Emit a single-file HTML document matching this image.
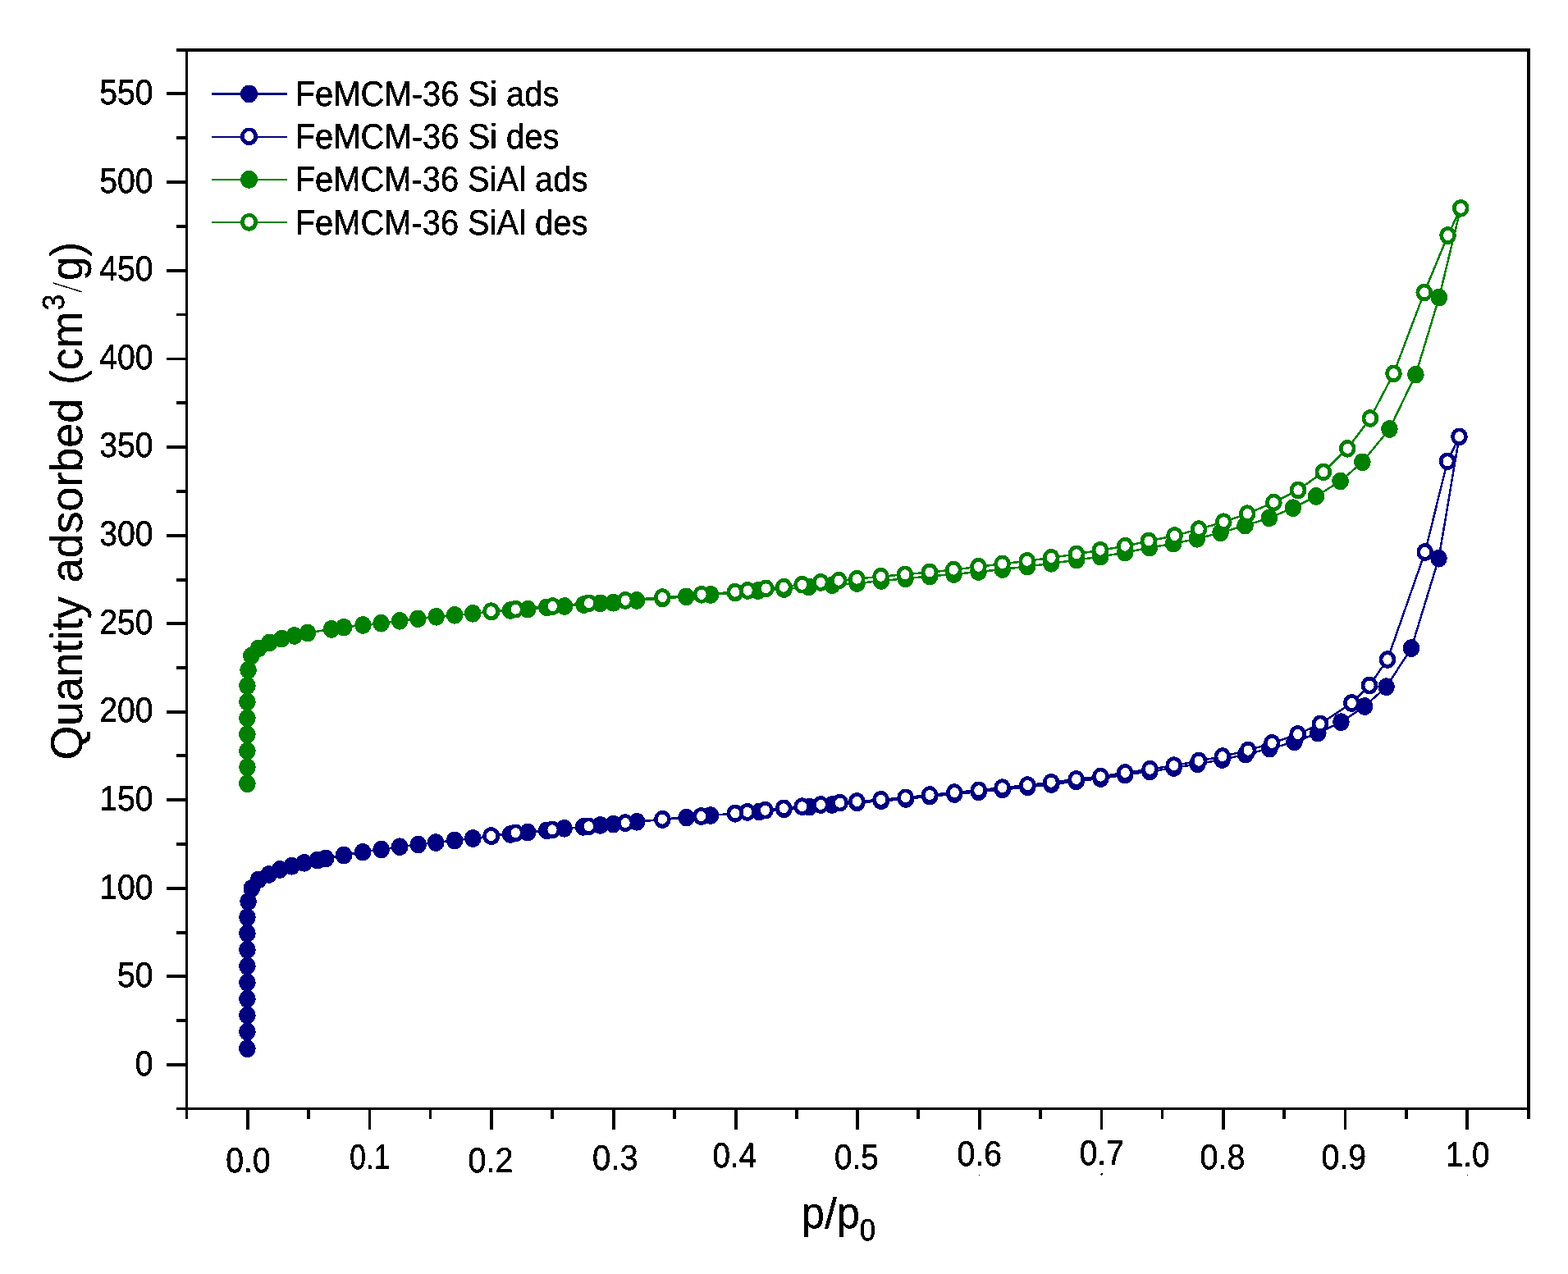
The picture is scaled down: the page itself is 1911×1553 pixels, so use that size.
<!DOCTYPE html>
<html lang="en"><head><meta charset="utf-8"><title>Quantity adsorbed vs p/p0</title>
<style>html,body{margin:0;padding:0;background:#fff;overflow:hidden}svg{display:block}text{font-family:"Liberation Sans",Arial,Helvetica,sans-serif;font-size:100px;text-rendering:geometricPrecision}</style></head><body>
<svg width="1911" height="1553" viewBox="0 0 1911 1553">
<rect width="1911" height="1553" fill="#fff"/>
<defs><filter id="hard" x="0" y="0" width="1911" height="1553" filterUnits="userSpaceOnUse" color-interpolation-filters="sRGB"><feComponentTransfer><feFuncA type="discrete" tableValues="0 1"/></feComponentTransfer></filter></defs>
<g shape-rendering="crispEdges">
<g fill="#000">
<rect x="215" y="59" width="1650" height="4"/>
<rect x="215" y="1350" width="1650" height="3"/>
<rect x="226" y="59" width="3" height="1305"/>
<rect x="1861" y="59" width="4" height="1305"/>
<rect x="203" y="112" width="23" height="4"/>
<rect x="215" y="166" width="11" height="4"/>
<rect x="203" y="220" width="23" height="4"/>
<rect x="215" y="274" width="11" height="4"/>
<rect x="203" y="328" width="23" height="4"/>
<rect x="215" y="382" width="11" height="3"/>
<rect x="203" y="436" width="23" height="3"/>
<rect x="215" y="489" width="11" height="4"/>
<rect x="203" y="543" width="23" height="4"/>
<rect x="215" y="597" width="11" height="4"/>
<rect x="203" y="651" width="23" height="4"/>
<rect x="215" y="705" width="11" height="4"/>
<rect x="203" y="758" width="23" height="4"/>
<rect x="215" y="812" width="11" height="4"/>
<rect x="203" y="866" width="23" height="4"/>
<rect x="215" y="919" width="11" height="4"/>
<rect x="203" y="973" width="23" height="4"/>
<rect x="215" y="1027" width="11" height="4"/>
<rect x="203" y="1081" width="23" height="4"/>
<rect x="215" y="1135" width="11" height="4"/>
<rect x="203" y="1188" width="23" height="4"/>
<rect x="215" y="1242" width="11" height="4"/>
<rect x="203" y="1296" width="23" height="4"/>
<rect x="300" y="1353" width="4" height="24"/>
<rect x="374" y="1353" width="4" height="11"/>
<rect x="449" y="1353" width="3" height="24"/>
<rect x="523" y="1353" width="3" height="11"/>
<rect x="597" y="1353" width="4" height="24"/>
<rect x="671" y="1353" width="4" height="11"/>
<rect x="746" y="1353" width="4" height="24"/>
<rect x="820" y="1353" width="4" height="11"/>
<rect x="895" y="1353" width="4" height="24"/>
<rect x="969" y="1353" width="4" height="11"/>
<rect x="1043" y="1353" width="4" height="24"/>
<rect x="1117" y="1353" width="4" height="11"/>
<rect x="1192" y="1353" width="4" height="24"/>
<rect x="1266" y="1353" width="4" height="11"/>
<rect x="1341" y="1353" width="3" height="24"/>
<rect x="1415" y="1353" width="3" height="11"/>
<rect x="1489" y="1353" width="4" height="24"/>
<rect x="1563" y="1353" width="4" height="11"/>
<rect x="1638" y="1353" width="3" height="24"/>
<rect x="1712" y="1353" width="4" height="11"/>
<rect x="1786" y="1353" width="4" height="24"/>
</g>
<path d="M301.4 1278.3 L301.4 1257.6 L301.4 1237.6 L301.4 1217.7 L301.4 1197.7 L301.4 1177.7 L301.4 1157.8 L301.4 1137.8 L301.4 1118.2 L302.6 1099.0 L306.8 1083.0 L315.2 1072.3 L327.7 1065.9 L341.1 1059.9 L355.5 1055.8 L370.8 1051.8 L387.0 1048.5 L397.0 1046.5 L419.0 1042.4 L442.1 1038.7 L464.7 1035.5 L487.1 1032.2 L509.7 1029.5 L531.2 1027.0 L554.1 1024.5 L576.3 1022.0 L599.0 1019.3 L622.1 1017.0 L643.2 1014.6 L666.3 1012.3 L687.6 1009.8 L710.9 1008.0 L731.6 1005.9 L747.5 1004.6 L776.3 1001.8 L807.3 999.0 L836.6 996.6 L866.0 994.0 L896.0 991.8 L925.4 989.5 L955.5 986.5 L986.5 983.6 L1014.1 981.0 L1044.5 978.5 L1074.0 976.3 L1104.0 974.0 L1133.2 970.6 L1163.2 968.0 L1192.8 965.3 L1221.8 962.4 L1252.3 959.4 L1281.3 956.1 L1311.7 952.4 L1341.4 949.0 L1371.2 944.5 L1401.3 940.5 L1430.6 936.0 L1459.4 931.3 L1489.6 926.0 L1518.1 919.6 L1547.4 912.6 L1577.5 904.5 L1606.3 893.6 L1634.4 880.2 L1663.2 861.0 L1689.6 837.2 L1720.1 790.1 L1753.5 680.7 L1778.5 532.3" fill="none" stroke="#000080" stroke-width="2.5" stroke-linejoin="round"/>
<g fill="#000080">
<ellipse cx="301.4" cy="1278.3" rx="10.3" ry="10.8"/>
<ellipse cx="301.4" cy="1257.6" rx="10.3" ry="10.8"/>
<ellipse cx="301.4" cy="1237.6" rx="10.3" ry="10.8"/>
<ellipse cx="301.4" cy="1217.7" rx="10.3" ry="10.8"/>
<ellipse cx="301.4" cy="1197.7" rx="10.3" ry="10.8"/>
<ellipse cx="301.4" cy="1177.7" rx="10.3" ry="10.8"/>
<ellipse cx="301.4" cy="1157.8" rx="10.3" ry="10.8"/>
<ellipse cx="301.4" cy="1137.8" rx="10.3" ry="10.8"/>
<ellipse cx="301.4" cy="1118.2" rx="10.3" ry="10.8"/>
<ellipse cx="302.6" cy="1099.0" rx="10.3" ry="10.8"/>
<ellipse cx="306.8" cy="1083.0" rx="10.3" ry="10.8"/>
<ellipse cx="315.2" cy="1072.3" rx="10.3" ry="10.8"/>
<ellipse cx="327.7" cy="1065.9" rx="10.3" ry="10.8"/>
<ellipse cx="341.1" cy="1059.9" rx="10.3" ry="10.8"/>
<ellipse cx="355.5" cy="1055.8" rx="10.3" ry="10.8"/>
<ellipse cx="370.8" cy="1051.8" rx="10.3" ry="10.8"/>
<ellipse cx="387.0" cy="1048.5" rx="10.3" ry="10.8"/>
<ellipse cx="397.0" cy="1046.5" rx="10.3" ry="10.8"/>
<ellipse cx="419.0" cy="1042.4" rx="10.3" ry="10.8"/>
<ellipse cx="442.1" cy="1038.7" rx="10.3" ry="10.8"/>
<ellipse cx="464.7" cy="1035.5" rx="10.3" ry="10.8"/>
<ellipse cx="487.1" cy="1032.2" rx="10.3" ry="10.8"/>
<ellipse cx="509.7" cy="1029.5" rx="10.3" ry="10.8"/>
<ellipse cx="531.2" cy="1027.0" rx="10.3" ry="10.8"/>
<ellipse cx="554.1" cy="1024.5" rx="10.3" ry="10.8"/>
<ellipse cx="576.3" cy="1022.0" rx="10.3" ry="10.8"/>
<ellipse cx="599.0" cy="1019.3" rx="10.3" ry="10.8"/>
<ellipse cx="622.1" cy="1017.0" rx="10.3" ry="10.8"/>
<ellipse cx="643.2" cy="1014.6" rx="10.3" ry="10.8"/>
<ellipse cx="666.3" cy="1012.3" rx="10.3" ry="10.8"/>
<ellipse cx="687.6" cy="1009.8" rx="10.3" ry="10.8"/>
<ellipse cx="710.9" cy="1008.0" rx="10.3" ry="10.8"/>
<ellipse cx="731.6" cy="1005.9" rx="10.3" ry="10.8"/>
<ellipse cx="747.5" cy="1004.6" rx="10.3" ry="10.8"/>
<ellipse cx="776.3" cy="1001.8" rx="10.3" ry="10.8"/>
<ellipse cx="807.3" cy="999.0" rx="10.3" ry="10.8"/>
<ellipse cx="836.6" cy="996.6" rx="10.3" ry="10.8"/>
<ellipse cx="866.0" cy="994.0" rx="10.3" ry="10.8"/>
<ellipse cx="896.0" cy="991.8" rx="10.3" ry="10.8"/>
<ellipse cx="925.4" cy="989.5" rx="10.3" ry="10.8"/>
<ellipse cx="955.5" cy="986.5" rx="10.3" ry="10.8"/>
<ellipse cx="986.5" cy="983.6" rx="10.3" ry="10.8"/>
<ellipse cx="1014.1" cy="981.0" rx="10.3" ry="10.8"/>
<ellipse cx="1044.5" cy="978.5" rx="10.3" ry="10.8"/>
<ellipse cx="1074.0" cy="976.3" rx="10.3" ry="10.8"/>
<ellipse cx="1104.0" cy="974.0" rx="10.3" ry="10.8"/>
<ellipse cx="1133.2" cy="970.6" rx="10.3" ry="10.8"/>
<ellipse cx="1163.2" cy="968.0" rx="10.3" ry="10.8"/>
<ellipse cx="1192.8" cy="965.3" rx="10.3" ry="10.8"/>
<ellipse cx="1221.8" cy="962.4" rx="10.3" ry="10.8"/>
<ellipse cx="1252.3" cy="959.4" rx="10.3" ry="10.8"/>
<ellipse cx="1281.3" cy="956.1" rx="10.3" ry="10.8"/>
<ellipse cx="1311.7" cy="952.4" rx="10.3" ry="10.8"/>
<ellipse cx="1341.4" cy="949.0" rx="10.3" ry="10.8"/>
<ellipse cx="1371.2" cy="944.5" rx="10.3" ry="10.8"/>
<ellipse cx="1401.3" cy="940.5" rx="10.3" ry="10.8"/>
<ellipse cx="1430.6" cy="936.0" rx="10.3" ry="10.8"/>
<ellipse cx="1459.4" cy="931.3" rx="10.3" ry="10.8"/>
<ellipse cx="1489.6" cy="926.0" rx="10.3" ry="10.8"/>
<ellipse cx="1518.1" cy="919.6" rx="10.3" ry="10.8"/>
<ellipse cx="1547.4" cy="912.6" rx="10.3" ry="10.8"/>
<ellipse cx="1577.5" cy="904.5" rx="10.3" ry="10.8"/>
<ellipse cx="1606.3" cy="893.6" rx="10.3" ry="10.8"/>
<ellipse cx="1634.4" cy="880.2" rx="10.3" ry="10.8"/>
<ellipse cx="1663.2" cy="861.0" rx="10.3" ry="10.8"/>
<ellipse cx="1689.6" cy="837.2" rx="10.3" ry="10.8"/>
<ellipse cx="1720.1" cy="790.1" rx="10.3" ry="10.8"/>
<ellipse cx="1753.5" cy="680.7" rx="10.3" ry="10.8"/>
<ellipse cx="1778.5" cy="532.3" rx="10.3" ry="10.8"/>
</g>
<path d="M1778.5 532.3 L1764.1 562.3 L1736.8 673.0 L1691.0 804.0 L1669.0 835.6 L1647.3 857.0 L1609.0 882.4 L1581.7 895.0 L1550.2 905.9 L1521.1 914.6 L1489.9 922.1 L1461.1 927.6 L1430.7 933.2 L1401.5 937.7 L1371.2 942.0 L1341.4 946.5 L1311.7 949.9 L1281.1 953.7 L1252.3 957.1 L1221.6 960.2 L1192.8 963.3 L1163.2 966.1 L1133.1 969.0 L1103.7 972.3 L1073.6 974.8 L1044.3 977.0 L1023.7 978.6 L1000.2 981.0 L977.6 983.2 L955.2 985.3 L932.6 987.7 L910.8 989.9 L895.8 991.5 L854.7 995.0 L807.3 998.6 L762.1 1003.1 L717.4 1007.3 L673.0 1011.4 L628.3 1015.3 L598.5 1019.0" fill="none" stroke="#000080" stroke-width="2.5" stroke-linejoin="round"/>
<g fill="#000080">
<ellipse cx="1778.5" cy="532.3" rx="10.3" ry="10.8"/><ellipse cx="1778.5" cy="532.3" rx="5.6" ry="6.05" fill="#fff"/>
<ellipse cx="1764.1" cy="562.3" rx="10.3" ry="10.8"/><ellipse cx="1764.1" cy="562.3" rx="5.6" ry="6.05" fill="#fff"/>
<ellipse cx="1736.8" cy="673.0" rx="10.3" ry="10.8"/><ellipse cx="1736.8" cy="673.0" rx="5.6" ry="6.05" fill="#fff"/>
<ellipse cx="1691.0" cy="804.0" rx="10.3" ry="10.8"/><ellipse cx="1691.0" cy="804.0" rx="5.6" ry="6.05" fill="#fff"/>
<ellipse cx="1669.0" cy="835.6" rx="10.3" ry="10.8"/><ellipse cx="1669.0" cy="835.6" rx="5.6" ry="6.05" fill="#fff"/>
<ellipse cx="1647.3" cy="857.0" rx="10.3" ry="10.8"/><ellipse cx="1647.3" cy="857.0" rx="5.6" ry="6.05" fill="#fff"/>
<ellipse cx="1609.0" cy="882.4" rx="10.3" ry="10.8"/><ellipse cx="1609.0" cy="882.4" rx="5.6" ry="6.05" fill="#fff"/>
<ellipse cx="1581.7" cy="895.0" rx="10.3" ry="10.8"/><ellipse cx="1581.7" cy="895.0" rx="5.6" ry="6.05" fill="#fff"/>
<ellipse cx="1550.2" cy="905.9" rx="10.3" ry="10.8"/><ellipse cx="1550.2" cy="905.9" rx="5.6" ry="6.05" fill="#fff"/>
<ellipse cx="1521.1" cy="914.6" rx="10.3" ry="10.8"/><ellipse cx="1521.1" cy="914.6" rx="5.6" ry="6.05" fill="#fff"/>
<ellipse cx="1489.9" cy="922.1" rx="10.3" ry="10.8"/><ellipse cx="1489.9" cy="922.1" rx="5.6" ry="6.05" fill="#fff"/>
<ellipse cx="1461.1" cy="927.6" rx="10.3" ry="10.8"/><ellipse cx="1461.1" cy="927.6" rx="5.6" ry="6.05" fill="#fff"/>
<ellipse cx="1430.7" cy="933.2" rx="10.3" ry="10.8"/><ellipse cx="1430.7" cy="933.2" rx="5.6" ry="6.05" fill="#fff"/>
<ellipse cx="1401.5" cy="937.7" rx="10.3" ry="10.8"/><ellipse cx="1401.5" cy="937.7" rx="5.6" ry="6.05" fill="#fff"/>
<ellipse cx="1371.2" cy="942.0" rx="10.3" ry="10.8"/><ellipse cx="1371.2" cy="942.0" rx="5.6" ry="6.05" fill="#fff"/>
<ellipse cx="1341.4" cy="946.5" rx="10.3" ry="10.8"/><ellipse cx="1341.4" cy="946.5" rx="5.6" ry="6.05" fill="#fff"/>
<ellipse cx="1311.7" cy="949.9" rx="10.3" ry="10.8"/><ellipse cx="1311.7" cy="949.9" rx="5.6" ry="6.05" fill="#fff"/>
<ellipse cx="1281.1" cy="953.7" rx="10.3" ry="10.8"/><ellipse cx="1281.1" cy="953.7" rx="5.6" ry="6.05" fill="#fff"/>
<ellipse cx="1252.3" cy="957.1" rx="10.3" ry="10.8"/><ellipse cx="1252.3" cy="957.1" rx="5.6" ry="6.05" fill="#fff"/>
<ellipse cx="1221.6" cy="960.2" rx="10.3" ry="10.8"/><ellipse cx="1221.6" cy="960.2" rx="5.6" ry="6.05" fill="#fff"/>
<ellipse cx="1192.8" cy="963.3" rx="10.3" ry="10.8"/><ellipse cx="1192.8" cy="963.3" rx="5.6" ry="6.05" fill="#fff"/>
<ellipse cx="1163.2" cy="966.1" rx="10.3" ry="10.8"/><ellipse cx="1163.2" cy="966.1" rx="5.6" ry="6.05" fill="#fff"/>
<ellipse cx="1133.1" cy="969.0" rx="10.3" ry="10.8"/><ellipse cx="1133.1" cy="969.0" rx="5.6" ry="6.05" fill="#fff"/>
<ellipse cx="1103.7" cy="972.3" rx="10.3" ry="10.8"/><ellipse cx="1103.7" cy="972.3" rx="5.6" ry="6.05" fill="#fff"/>
<ellipse cx="1073.6" cy="974.8" rx="10.3" ry="10.8"/><ellipse cx="1073.6" cy="974.8" rx="5.6" ry="6.05" fill="#fff"/>
<ellipse cx="1044.3" cy="977.0" rx="10.3" ry="10.8"/><ellipse cx="1044.3" cy="977.0" rx="5.6" ry="6.05" fill="#fff"/>
<ellipse cx="1023.7" cy="978.6" rx="10.3" ry="10.8"/><ellipse cx="1023.7" cy="978.6" rx="5.6" ry="6.05" fill="#fff"/>
<ellipse cx="1000.2" cy="981.0" rx="10.3" ry="10.8"/><ellipse cx="1000.2" cy="981.0" rx="5.6" ry="6.05" fill="#fff"/>
<ellipse cx="977.6" cy="983.2" rx="10.3" ry="10.8"/><ellipse cx="977.6" cy="983.2" rx="5.6" ry="6.05" fill="#fff"/>
<ellipse cx="955.2" cy="985.3" rx="10.3" ry="10.8"/><ellipse cx="955.2" cy="985.3" rx="5.6" ry="6.05" fill="#fff"/>
<ellipse cx="932.6" cy="987.7" rx="10.3" ry="10.8"/><ellipse cx="932.6" cy="987.7" rx="5.6" ry="6.05" fill="#fff"/>
<ellipse cx="910.8" cy="989.9" rx="10.3" ry="10.8"/><ellipse cx="910.8" cy="989.9" rx="5.6" ry="6.05" fill="#fff"/>
<ellipse cx="895.8" cy="991.5" rx="10.3" ry="10.8"/><ellipse cx="895.8" cy="991.5" rx="5.6" ry="6.05" fill="#fff"/>
<ellipse cx="854.7" cy="995.0" rx="10.3" ry="10.8"/><ellipse cx="854.7" cy="995.0" rx="5.6" ry="6.05" fill="#fff"/>
<ellipse cx="807.3" cy="998.6" rx="10.3" ry="10.8"/><ellipse cx="807.3" cy="998.6" rx="5.6" ry="6.05" fill="#fff"/>
<ellipse cx="762.1" cy="1003.1" rx="10.3" ry="10.8"/><ellipse cx="762.1" cy="1003.1" rx="5.6" ry="6.05" fill="#fff"/>
<ellipse cx="717.4" cy="1007.3" rx="10.3" ry="10.8"/><ellipse cx="717.4" cy="1007.3" rx="5.6" ry="6.05" fill="#fff"/>
<ellipse cx="673.0" cy="1011.4" rx="10.3" ry="10.8"/><ellipse cx="673.0" cy="1011.4" rx="5.6" ry="6.05" fill="#fff"/>
<ellipse cx="628.3" cy="1015.3" rx="10.3" ry="10.8"/><ellipse cx="628.3" cy="1015.3" rx="5.6" ry="6.05" fill="#fff"/>
<ellipse cx="598.5" cy="1019.0" rx="10.3" ry="10.8"/><ellipse cx="598.5" cy="1019.0" rx="5.6" ry="6.05" fill="#fff"/>
</g>
<path d="M301.4 955.3 L301.4 935.2 L301.4 915.4 L301.4 895.3 L301.4 875.4 L301.4 855.6 L301.4 836.0 L302.6 816.8 L306.3 799.5 L315.2 790.3 L328.6 783.3 L343.3 778.6 L358.7 774.9 L374.9 771.6 L403.9 766.9 L419.0 764.7 L442.4 761.9 L464.5 759.7 L487.1 756.8 L509.4 754.3 L531.7 751.8 L554.1 749.8 L576.3 747.8 L599.0 745.5 L622.1 744.0 L643.2 742.7 L666.3 740.3 L688.1 739.0 L711.5 737.0 L731.6 735.3 L747.5 734.8 L776.0 731.9 L807.3 729.5 L836.3 727.3 L866.1 724.9 L896.0 722.5 L923.7 720.0 L955.5 718.0 L985.7 715.4 L1014.1 713.2 L1044.5 711.0 L1074.0 708.0 L1103.5 705.3 L1133.1 702.4 L1162.5 700.0 L1192.5 697.0 L1221.8 694.0 L1252.0 690.5 L1281.3 686.8 L1312.1 682.5 L1341.2 678.5 L1371.2 673.5 L1400.8 667.7 L1430.1 662.7 L1458.9 656.8 L1487.6 649.3 L1517.5 640.6 L1546.9 631.4 L1575.8 619.2 L1604.0 604.9 L1633.6 586.5 L1660.4 563.3 L1693.4 523.0 L1725.4 456.6 L1753.9 362.7 L1780.2 253.8" fill="none" stroke="#008000" stroke-width="2.5" stroke-linejoin="round"/>
<g fill="#008000">
<ellipse cx="301.4" cy="955.3" rx="10.3" ry="10.8"/>
<ellipse cx="301.4" cy="935.2" rx="10.3" ry="10.8"/>
<ellipse cx="301.4" cy="915.4" rx="10.3" ry="10.8"/>
<ellipse cx="301.4" cy="895.3" rx="10.3" ry="10.8"/>
<ellipse cx="301.4" cy="875.4" rx="10.3" ry="10.8"/>
<ellipse cx="301.4" cy="855.6" rx="10.3" ry="10.8"/>
<ellipse cx="301.4" cy="836.0" rx="10.3" ry="10.8"/>
<ellipse cx="302.6" cy="816.8" rx="10.3" ry="10.8"/>
<ellipse cx="306.3" cy="799.5" rx="10.3" ry="10.8"/>
<ellipse cx="315.2" cy="790.3" rx="10.3" ry="10.8"/>
<ellipse cx="328.6" cy="783.3" rx="10.3" ry="10.8"/>
<ellipse cx="343.3" cy="778.6" rx="10.3" ry="10.8"/>
<ellipse cx="358.7" cy="774.9" rx="10.3" ry="10.8"/>
<ellipse cx="374.9" cy="771.6" rx="10.3" ry="10.8"/>
<ellipse cx="403.9" cy="766.9" rx="10.3" ry="10.8"/>
<ellipse cx="419.0" cy="764.7" rx="10.3" ry="10.8"/>
<ellipse cx="442.4" cy="761.9" rx="10.3" ry="10.8"/>
<ellipse cx="464.5" cy="759.7" rx="10.3" ry="10.8"/>
<ellipse cx="487.1" cy="756.8" rx="10.3" ry="10.8"/>
<ellipse cx="509.4" cy="754.3" rx="10.3" ry="10.8"/>
<ellipse cx="531.7" cy="751.8" rx="10.3" ry="10.8"/>
<ellipse cx="554.1" cy="749.8" rx="10.3" ry="10.8"/>
<ellipse cx="576.3" cy="747.8" rx="10.3" ry="10.8"/>
<ellipse cx="599.0" cy="745.5" rx="10.3" ry="10.8"/>
<ellipse cx="622.1" cy="744.0" rx="10.3" ry="10.8"/>
<ellipse cx="643.2" cy="742.7" rx="10.3" ry="10.8"/>
<ellipse cx="666.3" cy="740.3" rx="10.3" ry="10.8"/>
<ellipse cx="688.1" cy="739.0" rx="10.3" ry="10.8"/>
<ellipse cx="711.5" cy="737.0" rx="10.3" ry="10.8"/>
<ellipse cx="731.6" cy="735.3" rx="10.3" ry="10.8"/>
<ellipse cx="747.5" cy="734.8" rx="10.3" ry="10.8"/>
<ellipse cx="776.0" cy="731.9" rx="10.3" ry="10.8"/>
<ellipse cx="807.3" cy="729.5" rx="10.3" ry="10.8"/>
<ellipse cx="836.3" cy="727.3" rx="10.3" ry="10.8"/>
<ellipse cx="866.1" cy="724.9" rx="10.3" ry="10.8"/>
<ellipse cx="896.0" cy="722.5" rx="10.3" ry="10.8"/>
<ellipse cx="923.7" cy="720.0" rx="10.3" ry="10.8"/>
<ellipse cx="955.5" cy="718.0" rx="10.3" ry="10.8"/>
<ellipse cx="985.7" cy="715.4" rx="10.3" ry="10.8"/>
<ellipse cx="1014.1" cy="713.2" rx="10.3" ry="10.8"/>
<ellipse cx="1044.5" cy="711.0" rx="10.3" ry="10.8"/>
<ellipse cx="1074.0" cy="708.0" rx="10.3" ry="10.8"/>
<ellipse cx="1103.5" cy="705.3" rx="10.3" ry="10.8"/>
<ellipse cx="1133.1" cy="702.4" rx="10.3" ry="10.8"/>
<ellipse cx="1162.5" cy="700.0" rx="10.3" ry="10.8"/>
<ellipse cx="1192.5" cy="697.0" rx="10.3" ry="10.8"/>
<ellipse cx="1221.8" cy="694.0" rx="10.3" ry="10.8"/>
<ellipse cx="1252.0" cy="690.5" rx="10.3" ry="10.8"/>
<ellipse cx="1281.3" cy="686.8" rx="10.3" ry="10.8"/>
<ellipse cx="1312.1" cy="682.5" rx="10.3" ry="10.8"/>
<ellipse cx="1341.2" cy="678.5" rx="10.3" ry="10.8"/>
<ellipse cx="1371.2" cy="673.5" rx="10.3" ry="10.8"/>
<ellipse cx="1400.8" cy="667.7" rx="10.3" ry="10.8"/>
<ellipse cx="1430.1" cy="662.7" rx="10.3" ry="10.8"/>
<ellipse cx="1458.9" cy="656.8" rx="10.3" ry="10.8"/>
<ellipse cx="1487.6" cy="649.3" rx="10.3" ry="10.8"/>
<ellipse cx="1517.5" cy="640.6" rx="10.3" ry="10.8"/>
<ellipse cx="1546.9" cy="631.4" rx="10.3" ry="10.8"/>
<ellipse cx="1575.8" cy="619.2" rx="10.3" ry="10.8"/>
<ellipse cx="1604.0" cy="604.9" rx="10.3" ry="10.8"/>
<ellipse cx="1633.6" cy="586.5" rx="10.3" ry="10.8"/>
<ellipse cx="1660.4" cy="563.3" rx="10.3" ry="10.8"/>
<ellipse cx="1693.4" cy="523.0" rx="10.3" ry="10.8"/>
<ellipse cx="1725.4" cy="456.6" rx="10.3" ry="10.8"/>
<ellipse cx="1753.9" cy="362.7" rx="10.3" ry="10.8"/>
<ellipse cx="1780.2" cy="253.8" rx="10.3" ry="10.8"/>
</g>
<path d="M1780.2 253.8 L1764.6 287.0 L1735.8 356.5 L1698.5 455.3 L1669.9 510.0 L1642.2 546.8 L1612.9 575.3 L1582.0 597.4 L1552.4 612.5 L1520.2 626.2 L1491.3 636.2 L1461.1 645.1 L1431.6 653.0 L1400.0 659.5 L1371.2 665.7 L1341.0 670.7 L1312.1 675.4 L1281.1 679.9 L1251.8 683.8 L1221.6 687.4 L1192.5 690.8 L1162.2 694.6 L1133.0 697.5 L1102.9 700.3 L1073.6 702.7 L1044.3 705.7 L1022.2 707.7 L1000.2 709.9 L977.6 712.7 L955.2 715.7 L933.4 717.4 L911.2 719.9 L895.8 721.6 L855.0 724.8 L807.3 728.1 L762.1 731.9 L717.7 735.3 L673.4 739.0 L628.3 742.7 L598.5 745.2" fill="none" stroke="#008000" stroke-width="2.5" stroke-linejoin="round"/>
<g fill="#008000">
<ellipse cx="1780.2" cy="253.8" rx="10.3" ry="10.8"/><ellipse cx="1780.2" cy="253.8" rx="5.6" ry="6.05" fill="#fff"/>
<ellipse cx="1764.6" cy="287.0" rx="10.3" ry="10.8"/><ellipse cx="1764.6" cy="287.0" rx="5.6" ry="6.05" fill="#fff"/>
<ellipse cx="1735.8" cy="356.5" rx="10.3" ry="10.8"/><ellipse cx="1735.8" cy="356.5" rx="5.6" ry="6.05" fill="#fff"/>
<ellipse cx="1698.5" cy="455.3" rx="10.3" ry="10.8"/><ellipse cx="1698.5" cy="455.3" rx="5.6" ry="6.05" fill="#fff"/>
<ellipse cx="1669.9" cy="510.0" rx="10.3" ry="10.8"/><ellipse cx="1669.9" cy="510.0" rx="5.6" ry="6.05" fill="#fff"/>
<ellipse cx="1642.2" cy="546.8" rx="10.3" ry="10.8"/><ellipse cx="1642.2" cy="546.8" rx="5.6" ry="6.05" fill="#fff"/>
<ellipse cx="1612.9" cy="575.3" rx="10.3" ry="10.8"/><ellipse cx="1612.9" cy="575.3" rx="5.6" ry="6.05" fill="#fff"/>
<ellipse cx="1582.0" cy="597.4" rx="10.3" ry="10.8"/><ellipse cx="1582.0" cy="597.4" rx="5.6" ry="6.05" fill="#fff"/>
<ellipse cx="1552.4" cy="612.5" rx="10.3" ry="10.8"/><ellipse cx="1552.4" cy="612.5" rx="5.6" ry="6.05" fill="#fff"/>
<ellipse cx="1520.2" cy="626.2" rx="10.3" ry="10.8"/><ellipse cx="1520.2" cy="626.2" rx="5.6" ry="6.05" fill="#fff"/>
<ellipse cx="1491.3" cy="636.2" rx="10.3" ry="10.8"/><ellipse cx="1491.3" cy="636.2" rx="5.6" ry="6.05" fill="#fff"/>
<ellipse cx="1461.1" cy="645.1" rx="10.3" ry="10.8"/><ellipse cx="1461.1" cy="645.1" rx="5.6" ry="6.05" fill="#fff"/>
<ellipse cx="1431.6" cy="653.0" rx="10.3" ry="10.8"/><ellipse cx="1431.6" cy="653.0" rx="5.6" ry="6.05" fill="#fff"/>
<ellipse cx="1400.0" cy="659.5" rx="10.3" ry="10.8"/><ellipse cx="1400.0" cy="659.5" rx="5.6" ry="6.05" fill="#fff"/>
<ellipse cx="1371.2" cy="665.7" rx="10.3" ry="10.8"/><ellipse cx="1371.2" cy="665.7" rx="5.6" ry="6.05" fill="#fff"/>
<ellipse cx="1341.0" cy="670.7" rx="10.3" ry="10.8"/><ellipse cx="1341.0" cy="670.7" rx="5.6" ry="6.05" fill="#fff"/>
<ellipse cx="1312.1" cy="675.4" rx="10.3" ry="10.8"/><ellipse cx="1312.1" cy="675.4" rx="5.6" ry="6.05" fill="#fff"/>
<ellipse cx="1281.1" cy="679.9" rx="10.3" ry="10.8"/><ellipse cx="1281.1" cy="679.9" rx="5.6" ry="6.05" fill="#fff"/>
<ellipse cx="1251.8" cy="683.8" rx="10.3" ry="10.8"/><ellipse cx="1251.8" cy="683.8" rx="5.6" ry="6.05" fill="#fff"/>
<ellipse cx="1221.6" cy="687.4" rx="10.3" ry="10.8"/><ellipse cx="1221.6" cy="687.4" rx="5.6" ry="6.05" fill="#fff"/>
<ellipse cx="1192.5" cy="690.8" rx="10.3" ry="10.8"/><ellipse cx="1192.5" cy="690.8" rx="5.6" ry="6.05" fill="#fff"/>
<ellipse cx="1162.2" cy="694.6" rx="10.3" ry="10.8"/><ellipse cx="1162.2" cy="694.6" rx="5.6" ry="6.05" fill="#fff"/>
<ellipse cx="1133.0" cy="697.5" rx="10.3" ry="10.8"/><ellipse cx="1133.0" cy="697.5" rx="5.6" ry="6.05" fill="#fff"/>
<ellipse cx="1102.9" cy="700.3" rx="10.3" ry="10.8"/><ellipse cx="1102.9" cy="700.3" rx="5.6" ry="6.05" fill="#fff"/>
<ellipse cx="1073.6" cy="702.7" rx="10.3" ry="10.8"/><ellipse cx="1073.6" cy="702.7" rx="5.6" ry="6.05" fill="#fff"/>
<ellipse cx="1044.3" cy="705.7" rx="10.3" ry="10.8"/><ellipse cx="1044.3" cy="705.7" rx="5.6" ry="6.05" fill="#fff"/>
<ellipse cx="1022.2" cy="707.7" rx="10.3" ry="10.8"/><ellipse cx="1022.2" cy="707.7" rx="5.6" ry="6.05" fill="#fff"/>
<ellipse cx="1000.2" cy="709.9" rx="10.3" ry="10.8"/><ellipse cx="1000.2" cy="709.9" rx="5.6" ry="6.05" fill="#fff"/>
<ellipse cx="977.6" cy="712.7" rx="10.3" ry="10.8"/><ellipse cx="977.6" cy="712.7" rx="5.6" ry="6.05" fill="#fff"/>
<ellipse cx="955.2" cy="715.7" rx="10.3" ry="10.8"/><ellipse cx="955.2" cy="715.7" rx="5.6" ry="6.05" fill="#fff"/>
<ellipse cx="933.4" cy="717.4" rx="10.3" ry="10.8"/><ellipse cx="933.4" cy="717.4" rx="5.6" ry="6.05" fill="#fff"/>
<ellipse cx="911.2" cy="719.9" rx="10.3" ry="10.8"/><ellipse cx="911.2" cy="719.9" rx="5.6" ry="6.05" fill="#fff"/>
<ellipse cx="895.8" cy="721.6" rx="10.3" ry="10.8"/><ellipse cx="895.8" cy="721.6" rx="5.6" ry="6.05" fill="#fff"/>
<ellipse cx="855.0" cy="724.8" rx="10.3" ry="10.8"/><ellipse cx="855.0" cy="724.8" rx="5.6" ry="6.05" fill="#fff"/>
<ellipse cx="807.3" cy="728.1" rx="10.3" ry="10.8"/><ellipse cx="807.3" cy="728.1" rx="5.6" ry="6.05" fill="#fff"/>
<ellipse cx="762.1" cy="731.9" rx="10.3" ry="10.8"/><ellipse cx="762.1" cy="731.9" rx="5.6" ry="6.05" fill="#fff"/>
<ellipse cx="717.7" cy="735.3" rx="10.3" ry="10.8"/><ellipse cx="717.7" cy="735.3" rx="5.6" ry="6.05" fill="#fff"/>
<ellipse cx="673.4" cy="739.0" rx="10.3" ry="10.8"/><ellipse cx="673.4" cy="739.0" rx="5.6" ry="6.05" fill="#fff"/>
<ellipse cx="628.3" cy="742.7" rx="10.3" ry="10.8"/><ellipse cx="628.3" cy="742.7" rx="5.6" ry="6.05" fill="#fff"/>
<ellipse cx="598.5" cy="745.2" rx="10.3" ry="10.8"/><ellipse cx="598.5" cy="745.2" rx="5.6" ry="6.05" fill="#fff"/>
</g>
<rect x="258" y="112.85" width="92.2" height="3.1" fill="#000080"/>
<ellipse cx="303.6" cy="114.45" rx="10.55" ry="10.9" fill="#000080"/>
<rect x="258" y="165.55" width="92.2" height="2.5" fill="#000080"/>
<ellipse cx="303.6" cy="166.45" rx="10.55" ry="10.8" fill="#000080"/><ellipse cx="303.45" cy="166.04999999999998" rx="5.6" ry="6.1" fill="#fff"/>
<rect x="258" y="217.50" width="92.2" height="2.8" fill="#008000"/>
<ellipse cx="303.6" cy="218.75" rx="10.55" ry="10.9" fill="#008000"/>
<rect x="258" y="269.80" width="92.2" height="2.6" fill="#008000"/>
<ellipse cx="303.6" cy="270.85" rx="10.55" ry="10.8" fill="#008000"/><ellipse cx="303.45" cy="270.45000000000005" rx="5.6" ry="6.1" fill="#fff"/>
<g fill="#000"><rect x="1193" y="1432" width="1" height="1"/><rect x="1788" y="1432" width="1" height="1"/><rect x="1342" y="1430" width="2" height="2"/><rect x="1341" y="1431" width="1" height="1"/><rect x="1342" y="1432" width="1" height="1"/></g>
</g>
<g filter="url(#hard)">
<text transform="matrix(0.39918 0.00000 0.00000 0.43000 359.73 129.00)" fill="#000" stroke="#000" stroke-width="1.09" stroke-linejoin="round">FeMCM-36 Si ads</text>
<text transform="matrix(0.39918 0.00000 0.00000 0.43000 359.73 181.00)" fill="#000" stroke="#000" stroke-width="1.09" stroke-linejoin="round">FeMCM-36 Si des</text>
<text transform="matrix(0.39858 0.00000 0.00000 0.43000 359.74 233.00)" fill="#000" stroke="#000" stroke-width="1.09" stroke-linejoin="round">FeMCM-36 SiAl ads</text>
<text transform="matrix(0.39858 0.00000 0.00000 0.43000 359.74 286.00)" fill="#000" stroke="#000" stroke-width="1.09" stroke-linejoin="round">FeMCM-36 SiAl des</text>
<text transform="matrix(0.39160 0.00000 0.00000 0.43000 164.81 1311.00)" fill="#000" stroke="#000" stroke-width="1.10" stroke-linejoin="round">0</text>
<text transform="matrix(0.39160 0.00000 0.00000 0.43000 143.08 1203.00)" fill="#000" stroke="#000" stroke-width="1.10" stroke-linejoin="round">50</text>
<text transform="matrix(0.39160 0.00000 0.00000 0.43000 121.24 1096.00)" fill="#000" stroke="#000" stroke-width="1.10" stroke-linejoin="round">100</text>
<text transform="matrix(0.39160 0.00000 0.00000 0.43000 121.24 988.00)" fill="#000" stroke="#000" stroke-width="1.10" stroke-linejoin="round">150</text>
<text transform="matrix(0.39160 0.00000 0.00000 0.43000 121.24 880.00)" fill="#000" stroke="#000" stroke-width="1.10" stroke-linejoin="round">200</text>
<text transform="matrix(0.39160 0.00000 0.00000 0.43000 121.24 773.00)" fill="#000" stroke="#000" stroke-width="1.10" stroke-linejoin="round">250</text>
<text transform="matrix(0.39160 0.00000 0.00000 0.43000 121.24 665.00)" fill="#000" stroke="#000" stroke-width="1.10" stroke-linejoin="round">300</text>
<text transform="matrix(0.39160 0.00000 0.00000 0.43000 121.24 557.00)" fill="#000" stroke="#000" stroke-width="1.10" stroke-linejoin="round">350</text>
<text transform="matrix(0.39160 0.00000 0.00000 0.43000 121.24 450.00)" fill="#000" stroke="#000" stroke-width="1.10" stroke-linejoin="round">400</text>
<text transform="matrix(0.39160 0.00000 0.00000 0.43000 121.24 342.00)" fill="#000" stroke="#000" stroke-width="1.10" stroke-linejoin="round">450</text>
<text transform="matrix(0.39160 0.00000 0.00000 0.43000 121.24 235.00)" fill="#000" stroke="#000" stroke-width="1.10" stroke-linejoin="round">500</text>
<text transform="matrix(0.39160 0.00000 0.00000 0.43000 121.24 127.00)" fill="#000" stroke="#000" stroke-width="1.10" stroke-linejoin="round">550</text>
<text transform="matrix(0.39048 0.00000 0.00000 0.43000 275.36 1429.00)" fill="#000" stroke="#000" stroke-width="1.10" stroke-linejoin="round">0.0</text>
<text transform="matrix(0.35355 0.00000 0.00000 0.43000 426.21 1425.00)" fill="#000" stroke="#000" stroke-width="1.15" stroke-linejoin="round">0.1</text>
<text transform="matrix(0.39423 0.00000 0.00000 0.43000 570.55 1429.00)" fill="#000" stroke="#000" stroke-width="1.09" stroke-linejoin="round">0.2</text>
<text transform="matrix(0.40038 0.00000 0.00000 0.43000 722.02 1426.00)" fill="#000" stroke="#000" stroke-width="1.08" stroke-linejoin="round">0.3</text>
<text transform="matrix(0.38450 0.00000 0.00000 0.43000 868.59 1423.00)" fill="#000" stroke="#000" stroke-width="1.11" stroke-linejoin="round">0.4</text>
<text transform="matrix(0.38664 0.00000 0.00000 0.43000 1016.98 1425.00)" fill="#000" stroke="#000" stroke-width="1.10" stroke-linejoin="round">0.5</text>
<text transform="matrix(0.39197 0.00000 0.00000 0.43000 1166.46 1421.00)" fill="#000" stroke="#000" stroke-width="1.10" stroke-linejoin="round">0.6</text>
<text transform="matrix(0.38962 0.00000 0.00000 0.43000 1315.67 1420.00)" fill="#000" stroke="#000" stroke-width="1.10" stroke-linejoin="round">0.7</text>
<text transform="matrix(0.39656 0.00000 0.00000 0.43000 1462.44 1425.00)" fill="#000" stroke="#000" stroke-width="1.09" stroke-linejoin="round">0.8</text>
<text transform="matrix(0.39272 0.00000 0.00000 0.43000 1610.45 1425.00)" fill="#000" stroke="#000" stroke-width="1.10" stroke-linejoin="round">0.9</text>
<text transform="matrix(0.38474 0.00000 0.00000 0.43000 1761.94 1422.00)" fill="#000" stroke="#000" stroke-width="1.11" stroke-linejoin="round">1.0</text>
<text transform="matrix(0.50444 0.00000 0.00000 0.54094 976.77 1497.43)" fill="#000" stroke="#000" stroke-width="0.57" stroke-linejoin="round">p</text>
<text transform="matrix(0.52613 0.00000 0.00000 0.52653 1005.25 1496.92)" fill="#000" stroke="#000" stroke-width="0.57" stroke-linejoin="round">/</text>
<text transform="matrix(0.50667 0.00000 0.00000 0.54094 1019.76 1497.43)" fill="#000" stroke="#000" stroke-width="0.57" stroke-linejoin="round">p</text>
<text transform="matrix(0.34764 0.00000 0.00000 0.37314 1047.86 1512.28)" fill="#000" stroke="#000" stroke-width="1.39" stroke-linejoin="round">0</text>
<text transform="matrix(0.00000 -0.53469 0.54600 0.00000 100.20 926.29)" fill="#000" stroke="#000" stroke-width="0.56" stroke-linejoin="round">Quantity</text>
<text transform="matrix(0.00000 -0.53776 0.54600 0.00000 100.20 710.14)" fill="#000" stroke="#000" stroke-width="0.55" stroke-linejoin="round">adsorbed</text>
<text transform="matrix(0.00000 -0.53724 0.54600 0.00000 100.20 469.11)" fill="#000" stroke="#000" stroke-width="0.55" stroke-linejoin="round">(cm</text>
<text transform="matrix(0.00000 -0.35158 0.37597 0.00000 78.32 378.22)" fill="#000" stroke="#000" stroke-width="1.10" stroke-linejoin="round">3</text>
<text transform="matrix(0.00000 -0.19903 0.48299 0.09628 100.02 356.80)" fill="#000">/</text>
<text transform="matrix(0.00000 -0.53035 0.54600 0.00000 100.20 342.10)" fill="#000" stroke="#000" stroke-width="0.56" stroke-linejoin="round">g)</text>
</g>
</svg></body></html>
